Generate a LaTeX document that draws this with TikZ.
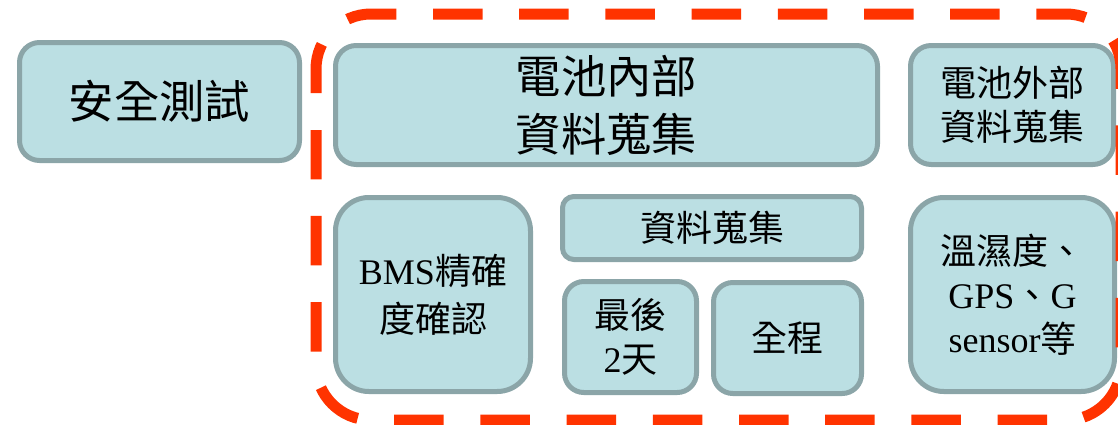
\documentclass[tikz,border=0pt]{standalone}
\usepackage{fontspec}
\setmainfont{Liberation Serif}
\newfontfamily\cjk{Noto Sans CJK TC}
\usetikzlibrary{positioning}

\definecolor{boxfill}{HTML}{BBDFE3}
\definecolor{boxline}{HTML}{8BA5A8}
\definecolor{framered}{HTML}{FF3300}

\begin{document}
\begin{tikzpicture}[x=0.75pt, y=-0.75pt,
    box/.style={draw=boxline, fill=boxfill, line width=3.75pt, align=center, inner sep=0pt},
    bigtext/.style={font=\fontsize{34}{43.5}\selectfont\cjk},
    smalltext/.style={font=\fontsize{27}{33}\selectfont\cjk}]
    \useasboundingbox (0,0) rectangle (1118,425);
    \clip (0,0) rectangle (1118,425);
    % left box
    \node [box, bigtext, minimum width=210pt, minimum height=88.5pt, rounded corners=15pt] (safety) at (159.5,101.5) {安全測試};
    % top row
    \node [box, bigtext, minimum width=406.5pt, minimum height=89.25pt, rounded corners=15.5pt] (inner) at (606.5,105) {電池內部\\資料蒐集};
    \node [box, smalltext, minimum width=152.25pt, minimum height=89.25pt, rounded corners=15.5pt] (outer) at (1012,105) {電池外部\\資料蒐集};
    % bottom row
    \node [box, smalltext, minimum width=146.25pt, minimum height=145.5pt, rounded corners=25pt] (bms) at (433,294.5) {{\rmfamily BMS}精確\\[3pt]度確認};
    \node [box, smalltext, minimum width=224.25pt, minimum height=47.25pt, rounded corners=8.5pt] (collect) at (712,228) {資料蒐集};
    \node [box, smalltext, minimum width=99pt, minimum height=83.25pt, rounded corners=14.5pt] (last) at (630.5,337) {最後\\{\rmfamily 2}天};
    \node [box, smalltext, minimum width=111pt, minimum height=83.25pt, rounded corners=14.5pt] (whole) at (787.5,338) {全程};
    \node [box, smalltext, minimum width=153pt, minimum height=145.5pt, rounded corners=25pt] (env) at (1012.5,294.5) {溫濕度、\\{\rmfamily GPS}、{\rmfamily G}\\{\rmfamily sensor}等};
    % dashed frame (open at the left, so the dashes never run together)
    \coordinate (fstart) at (316,93);
    \coordinate (fend) at (316,130);
    \draw [framered, line width=8.25pt, dash pattern=on 37.125pt off 27.525pt, rounded corners=41.25pt]
        (fstart) -- (316,14) -- (1121,14) -- (1121,420) -- (316,420) -- (fend);
\end{tikzpicture}
\end{document}
